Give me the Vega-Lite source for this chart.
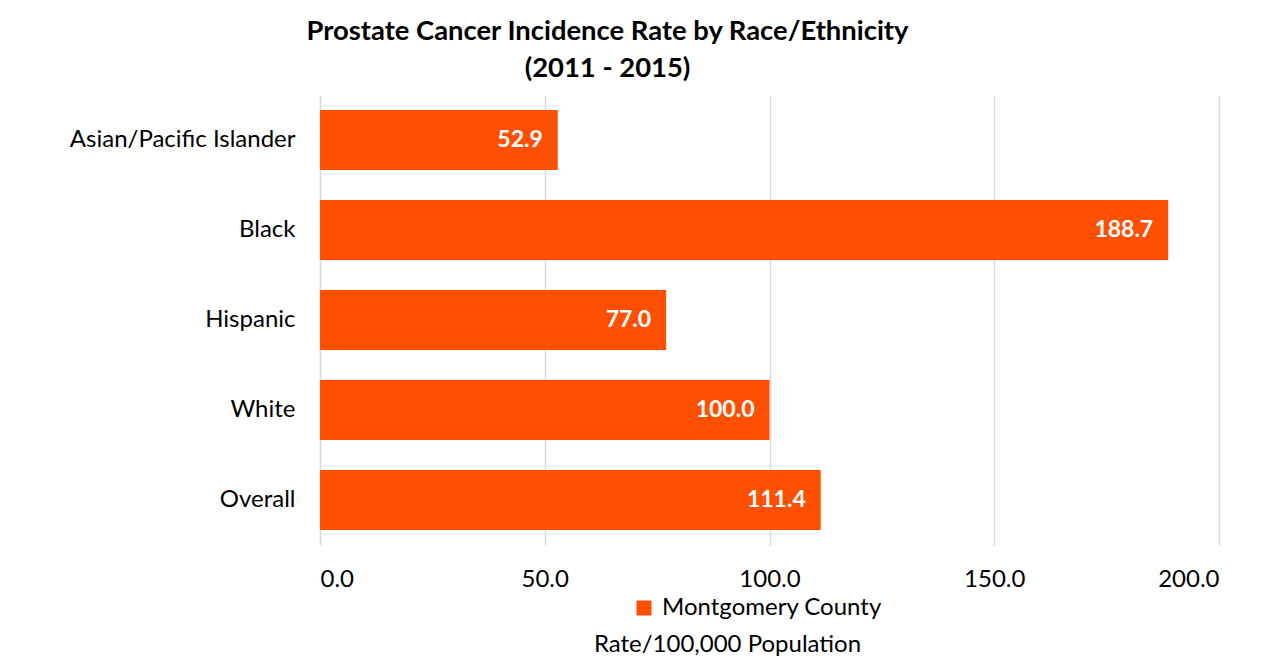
{
  "$schema": "https://vega.github.io/schema/vega-lite/v6.json",
  "autosize": "none",
  "width": 899,
  "height": 450,
  "padding": {"left": 320, "top": 95, "right": 53, "bottom": 123},
  "background": "white",
  "config": {
    "view": {"stroke": null},
    "font": "Lato"
  },
  "title": {
    "text": ["Prostate Cancer Incidence Rate by Race/Ethnicity", "(2011 - 2015)"],
    "font": "Lato",
    "fontSize": 27.4,
    "fontWeight": "bold",
    "color": "black",
    "lineHeight": 37,
    "anchor": "middle",
    "dx": -162,
    "offset": 13
  },
  "data": {
    "values": [
      {"group": "Asian/Pacific Islander", "rate": 52.9, "series": "Montgomery County"},
      {"group": "Black", "rate": 188.7, "series": "Montgomery County"},
      {"group": "Hispanic", "rate": 77.0, "series": "Montgomery County"},
      {"group": "White", "rate": 100.0, "series": "Montgomery County"},
      {"group": "Overall", "rate": 111.4, "series": "Montgomery County"}
    ]
  },
  "encoding": {
    "y": {
      "field": "group",
      "type": "nominal",
      "sort": null,
      "scale": {"paddingInner": 0.3333, "paddingOuter": 0.1667},
      "axis": {
        "title": null,
        "domain": false,
        "ticks": false,
        "labelFontSize": 24,
        "labelColor": "black",
        "labelPadding": 25,
        "labelFont": "Lato",
        "labelLimit": 320
      }
    },
    "x": {
      "field": "rate",
      "type": "quantitative",
      "scale": {"domain": [0, 200], "nice": false},
      "axis": {
        "values": [0, 50, 100, 150, 200],
        "format": ".1f",
        "domain": false,
        "ticks": false,
        "grid": true,
        "gridColor": "#d9d9d9",
        "gridWidth": 1.5,
        "labelFontSize": 24,
        "labelColor": "black",
        "labelPadding": 22,
        "labelFont": "Lato",
        "title": "Rate/100,000 Population",
        "titleFont": "Lato",
        "titleFontSize": 24,
        "titleFontWeight": "normal",
        "titleColor": "black",
        "titleX": 407,
        "titleY": 99,
        "titleBaseline": "middle",
        "titleAlign": "center"
      }
    }
  },
  "layer": [
    {
      "mark": {"type": "bar"},
      "encoding": {
        "color": {
          "field": "series",
          "type": "nominal",
          "scale": {"range": ["#FF4F00"]},
          "legend": {
            "title": null,
            "orient": "none",
            "legendX": 312,
            "legendY": 501,
            "symbolType": "square",
            "symbolSize": 225,
            "symbolStrokeWidth": 0,
            "labelFontSize": 24,
            "labelFont": "Lato",
            "labelColor": "black",
            "labelOffset": 6,
            "labelLimit": 400
          }
        }
      }
    },
    {
      "mark": {"type": "text", "align": "right", "baseline": "middle", "dx": -15, "color": "white", "fontWeight": "bold", "fontSize": 23, "font": "Lato"},
      "encoding": {
        "text": {"field": "rate", "type": "quantitative", "format": ".1f"}
      }
    }
  ]
}
